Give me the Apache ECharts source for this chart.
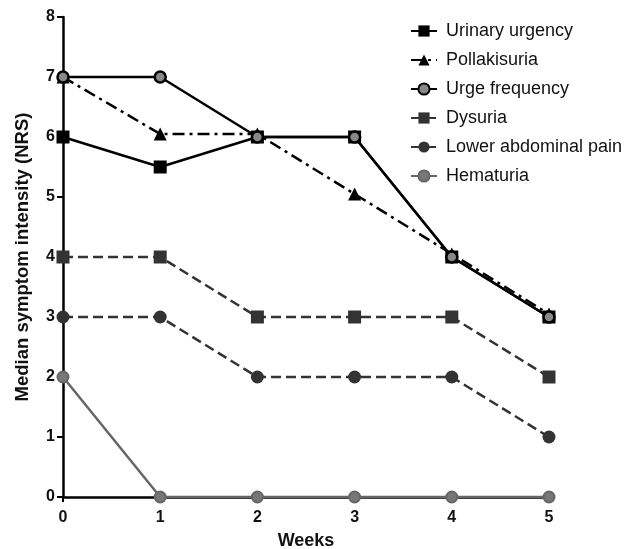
<!DOCTYPE html>
<html><head><meta charset="utf-8">
<script src="https://cdn.jsdelivr.net/npm/echarts@6/dist/echarts.min.js"></script>
<style>html,body{margin:0;padding:0;background:#fff}#c{width:635px;height:549px}</style>
</head><body><div id="c"></div>
<script>
const weeks = [0, 1, 2, 3, 4, 5];
const xTicks = [0, 1, 2, 3, 4, 5];
const yTicks = [0, 1, 2, 3, 4, 5, 6, 7, 8];
const urinaryUrgency = [6, 5.5, 6, 6, 4, 3];
const pollakisuria = [7, 6.05, 6.05, 5.05, 4.05, 3.05];
const urgeFrequency = [7, 7, 6, 6, 4, 3];
const dysuria = [4, 4, 3, 3, 3, 2];
const lowerAbdominalPain = [3, 3, 2, 2, 2, 1];
const hematuria = [2, 0, 0, 0, 0, 0];

const pairs = arr => arr.map((v, i) => [weeks[i], v]);
const chart = echarts.init(document.getElementById('c'));
const font = 'Liberation Sans, Arial, sans-serif';
function s(name, data, opts) {
  return Object.assign({
    name, type: 'line', data: pairs(data), symbolSize: 12,
    emphasis: { disabled: true }, animation: false, z: 3
  }, opts);
}
chart.setOption({
  animation: false,
  grid: { left: 63, right: 86, top: 17, bottom: 52, containLabel: false, outerBoundsMode: 'none' },
  legend: {
    orient: 'vertical', left: 405, top: 17, itemGap: 11, itemWidth: 26, itemHeight: 14,
    textStyle: { fontFamily: font, fontSize: 18, color: '#111', padding: [0, 0, 0, 4] },
    data: ['Urinary urgency', 'Pollakisuria', 'Urge frequency', 'Dysuria', 'Lower abdominal pain', 'Hematuria']
  },
  xAxis: {
    type: 'value', min: 0, max: 5, interval: 1,
    name: 'Weeks', nameLocation: 'middle', nameGap: 35,
    nameTextStyle: { fontFamily: font, fontSize: 18, fontWeight: 'bold', color: '#111' },
    axisLine: { lineStyle: { color: '#000', width: 2.5 } },
    axisTick: { show: true, length: 5, lineStyle: { color: '#000', width: 2 } },
    axisLabel: { fontFamily: font, fontSize: 16, fontWeight: 'bold', color: '#111', margin: 13,
      formatter: v => xTicks.includes(v) ? String(v) : '' },
    splitLine: { show: false }
  },
  yAxis: {
    type: 'value', min: 0, max: 8, interval: 1,
    name: 'Median symptom intensity (NRS)', nameLocation: 'middle', nameGap: 31,
    nameTextStyle: { fontFamily: font, fontSize: 18.5, fontWeight: 'bold', color: '#111' },
    axisLine: { show: true, lineStyle: { color: '#000', width: 2.5 } },
    axisTick: { show: true, length: 6, lineStyle: { color: '#000', width: 2 } },
    axisLabel: { fontFamily: font, fontSize: 16, fontWeight: 'bold', color: '#111', margin: 8,
      formatter: v => yTicks.includes(v) ? String(v) : '' },
    splitLine: { show: false }
  },
  series: [
    s('Urinary urgency', urinaryUrgency, { symbol: 'rect', symbolSize: 13,
      lineStyle: { color: '#000', width: 2.5, type: 'solid' },
      itemStyle: { color: '#000' } }),
    s('Pollakisuria', pollakisuria, { symbol: 'triangle', symbolSize: 13,
      lineStyle: { color: '#000', width: 2.5, type: [12, 5, 3, 5] },
      itemStyle: { color: '#000' } }),
    s('Urge frequency', urgeFrequency, { symbol: 'circle', symbolSize: 11,
      lineStyle: { color: '#000', width: 2.5, type: 'solid' },
      itemStyle: { color: '#888', borderColor: '#000', borderWidth: 2.5 } }),
    s('Dysuria', dysuria, { symbol: 'rect', symbolSize: 13,
      lineStyle: { color: '#333', width: 2.5, type: [10, 5] },
      itemStyle: { color: '#333' } }),
    s('Lower abdominal pain', lowerAbdominalPain, { symbol: 'circle', symbolSize: 13,
      lineStyle: { color: '#333', width: 2.5, type: [10, 5] },
      itemStyle: { color: '#333' } }),
    s('Hematuria', hematuria, { symbol: 'circle', symbolSize: 11,
      lineStyle: { color: '#666', width: 2.5, type: 'solid' },
      itemStyle: { color: '#777', borderColor: '#666', borderWidth: 2 } })
  ]
});
</script></body></html>
